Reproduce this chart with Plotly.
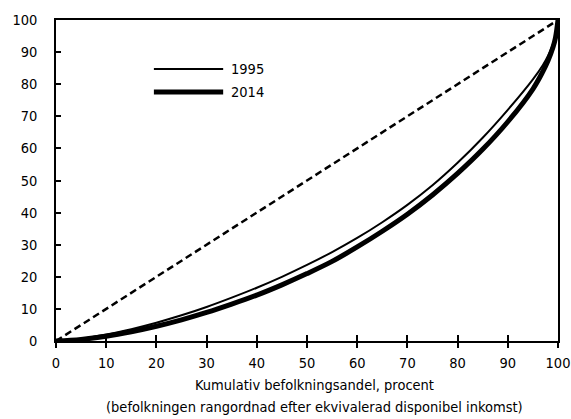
import plotly.graph_objects as go

# Cumulative population share (percent), ranked by equivalised disposable income
pop_share = [0, 5, 10, 15, 20, 25, 30, 35, 40, 45, 50, 55, 60, 65, 70, 75, 80,
             85, 90, 95, 97, 98, 99, 99.5, 100]
# Cumulative income share (percent)
income_1995 = [0, 0.7, 2.0, 3.7, 5.7, 8.0, 10.6, 13.5, 16.6, 20.0, 23.7, 27.7,
               32.1, 37.0, 42.4, 48.5, 55.5, 63.3, 72.0, 81.5, 86.0, 88.8,
               92.5, 95.3, 100]
income_2014 = [0, 0.5, 1.5, 2.9, 4.6, 6.6, 8.9, 11.5, 14.3, 17.5, 21.0, 24.8,
               29.3, 34.2, 39.5, 45.5, 52.2, 59.7, 68.3, 78.5, 84.0, 87.3,
               91.5, 94.5, 100]
equality = [0, 100]

series_names = ["1995", "2014"]
tick_vals = list(range(0, 101, 10))

FONT = "DejaVu Sans Condensed, Liberation Sans Narrow, sans-serif"
FSIZE = 14.5

fig = go.Figure()

# Line of perfect equality
fig.add_trace(go.Scatter(x=equality, y=equality, mode="lines",
                         line=dict(color="black", width=2.5, dash="7px,4px"),
                         showlegend=False, hoverinfo="skip"))
fig.add_trace(go.Scatter(x=pop_share, y=income_1995, mode="lines",
                         name=series_names[0],
                         line=dict(color="black", width=2, shape="spline",
                                   smoothing=1),
                         showlegend=False))
fig.add_trace(go.Scatter(x=pop_share, y=income_2014, mode="lines",
                         name=series_names[1],
                         line=dict(color="black", width=5, shape="spline",
                                   smoothing=1),
                         showlegend=False))
# Invisible trace carrying the upward half of the crossing x ticks
fig.add_trace(go.Scatter(x=equality, y=equality, xaxis="x2", mode="lines",
                         line=dict(width=0), opacity=0, showlegend=False,
                         hoverinfo="skip"))

# Hand-drawn key with long line samples
key_rows = [(series_names[0], 84.7, 2), (series_names[1], 77.6, 5)]
for label, yv, w in key_rows:
    fig.add_shape(type="line", xref="x", yref="y", x0=19.5, x1=33.3,
                  y0=yv, y1=yv, line=dict(color="black", width=w))
    fig.add_annotation(x=34.5, y=yv, xref="x", yref="y", text=label,
                       showarrow=False, xanchor="left", yanchor="middle",
                       font=dict(family=FONT, size=FSIZE, color="black"))

# Two-line axis title
title_lines = [("Kumulativ befolkningsandel, procent", -0.137),
               ("(befolkningen rangordnad efter ekvivalerad disponibel inkomst)",
                -0.206)]
for txt, yp in title_lines:
    fig.add_annotation(x=0.515, y=yp, xref="paper", yref="paper", text=txt,
                       showarrow=False, xanchor="center", yanchor="middle",
                       font=dict(family=FONT, size=FSIZE, color="black"))

axis_common = dict(range=[0, 100], tickvals=tick_vals, showgrid=False,
                   zeroline=False, showline=True, linecolor="black",
                   linewidth=1.5, tickcolor="black", tickwidth=1.5,
                   automargin=False,
                   tickfont=dict(family=FONT, size=FSIZE, color="black"))

fig.update_layout(
    width=571, height=419,
    margin=dict(l=56, r=13, t=20, b=78, autoexpand=False),
    paper_bgcolor="white", plot_bgcolor="white",
    font=dict(family=FONT, size=FSIZE, color="black"),
    xaxis=dict(**axis_common, ticks="outside", ticklen=5, mirror=True,
               ticklabelstandoff=3),
    xaxis2=dict(range=[0, 100], tickvals=tick_vals, overlaying="x",
                anchor="y", side="bottom", showgrid=False, zeroline=False,
                showline=False, ticks="inside", ticklen=6, tickcolor="black",
                tickwidth=1.5, showticklabels=False, automargin=False),
    yaxis=dict(**axis_common, ticks="inside", ticklen=5, mirror=True,
               ticklabelstandoff=14),
    showlegend=False,
)

fig.write_html("out.html")
